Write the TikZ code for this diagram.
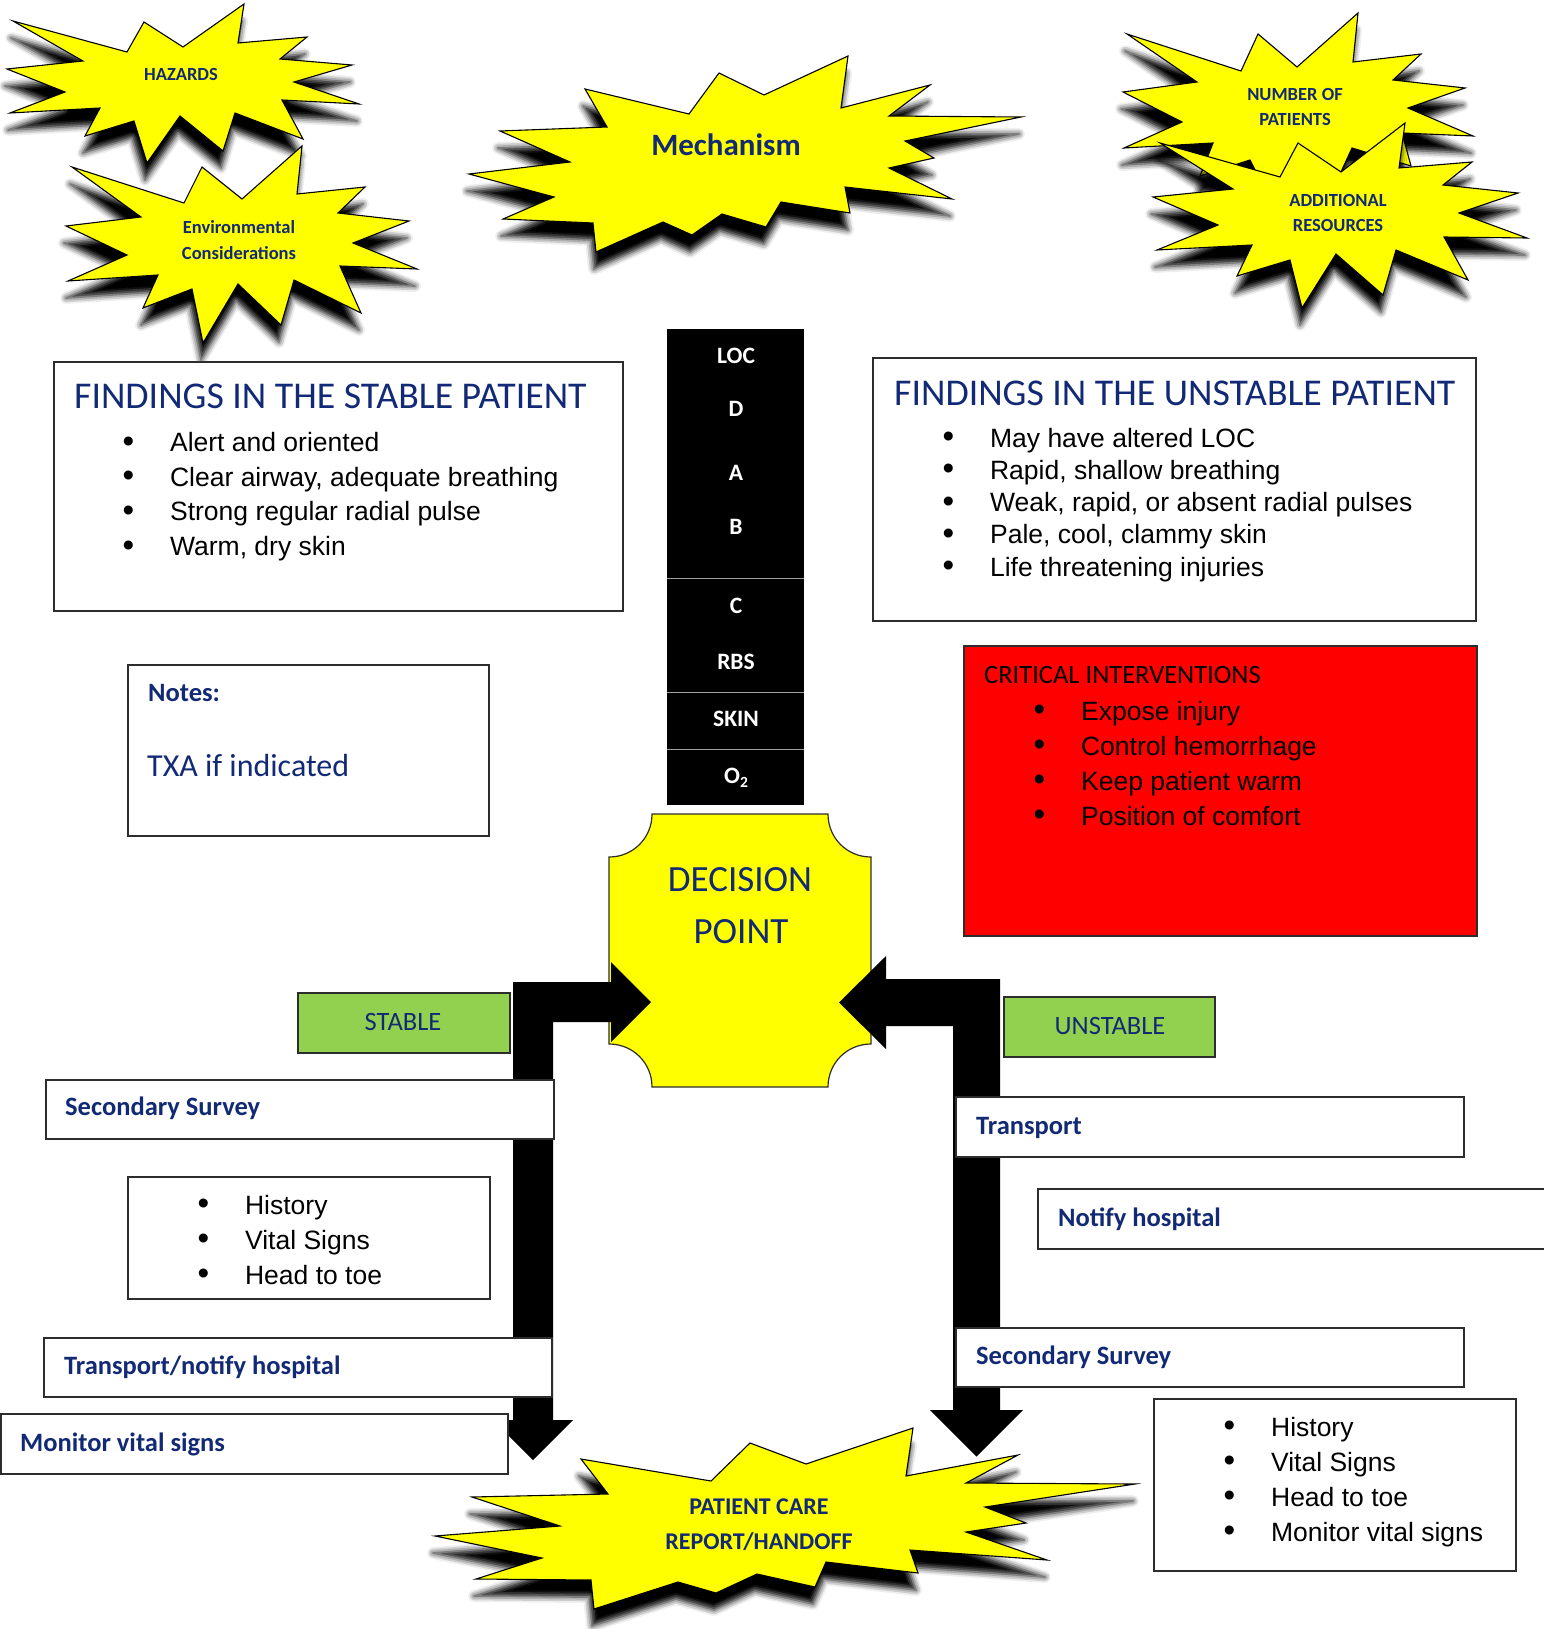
\documentclass[tikz,border=0pt]{standalone}
\usepackage{fontspec}
\setmainfont{Carlito}
\newfontfamily\arialfont{Liberation Sans}
\usetikzlibrary{shadows.blur}

\definecolor{navy}{RGB}{18,42,118}
\definecolor{burstyellow}{RGB}{255,255,0}
\definecolor{okgreen}{RGB}{146,208,80}
\definecolor{alertred}{RGB}{255,0,0}
\definecolor{edgegray}{RGB}{45,45,45}

% bullet followed by the item text at a fixed indent
\newcommand\blt[1]{\makebox[47.5pt][l]{\raisebox{-0.6pt}{\scalebox{1.25}{\textbullet}}}#1}

\tikzset{
  burst/.style={fill=burstyellow, draw=black, line width=1.1pt, line join=miter, miter limit=20,
    blur shadow={shadow xshift=-2pt, shadow yshift=-17pt, shadow blur radius=6pt, shadow opacity=100}},
  panel/.style={draw=edgegray, line width=1.2pt, fill=white},
  burstlabel/.style={inner sep=0pt, text=navy, align=center, font=\bfseries\fontsize{18.5}{25.5}\selectfont},
  boxhead/.style={inner sep=0pt, anchor=base west, text=navy, font=\bfseries\fontsize{26.5}{30}\selectfont},
  heading/.style={inner sep=0pt, anchor=base west, text=navy, font=\fontsize{37.8}{40}\selectfont},
  bulletitem/.style={inner sep=0pt, anchor=base west, font=\arialfont\fontsize{26.5}{30}\selectfont},
  loclabel/.style={inner sep=0pt, text=white, font=\bfseries\fontsize{23.5}{26}\selectfont},
  tag/.style={inner sep=0pt, text=navy, font=\fontsize{26.5}{30}\selectfont},
  blockarrow/.style={fill=black},
  divider/.style={draw=gray!75, line width=1pt},
}

\begin{document}
\begin{tikzpicture}[x=1pt,y=-1pt]
\useasboundingbox (0,0) rectangle (1543,1629);

% ---------------- starbursts ----------------
\path[burst] (13,21) -- (127,52) -- (144,22) -- (183,47) -- (244,4) -- (238,43) -- (307,37)
  -- (280,59) -- (352,65) -- (294,82) -- (359,104) -- (282,100) -- (303,139) -- (235,113)
  -- (223,151) -- (180,116) -- (147,163) -- (134,121) -- (85,136) -- (100,108) -- (10,113)
  -- (65,92) -- (7,69) -- (83,61) -- cycle;
\node[burstlabel] (hazards) at (181,74) {HAZARDS};

\path[burst] (72,167) -- (184,203) -- (202,167) -- (242,199) -- (302,146) -- (297,194)
  -- (365,187) -- (338,213) -- (409,221) -- (353,243) -- (417,269) -- (340,266) -- (361,313)
  -- (294,280) -- (281,325) -- (238,284) -- (203,343) -- (192,289) -- (143,308) -- (158,275)
  -- (68,281) -- (127,255) -- (66,226) -- (141,217) -- cycle;
\node[burstlabel] (environment) at (239,240) {Environmental\\Considerations};

\path[burst] (585,89) -- (689,114) -- (719,73) -- (764,95) -- (848,56) -- (841,108)
  -- (930,85) -- (889,116) -- (1021,117) -- (905,141) -- (934,158) -- (889,168) -- (952,199)
  -- (845,187) -- (850,213) -- (781,202) -- (766,227) -- (722,214) -- (692,235) -- (663,222)
  -- (596,252) -- (593,223) -- (503,219) -- (554,197) -- (469,174) -- (570,162) -- (500,131)
  -- (607,127) -- cycle;
\node[inner sep=0pt, text=navy, font=\bfseries\fontsize{31}{34}\selectfont] (mechanism) at (726,145) {Mechanism};

\path[burst] (1127,34) -- (1241,71) -- (1258,34) -- (1297,67) -- (1358,13) -- (1353,62)
  -- (1421,54) -- (1393,80) -- (1465,88) -- (1408,108) -- (1473,136) -- (1402,133)
  -- (1411,166) -- (1352,148) -- (1335,185) -- (1300,160) -- (1265,190) -- (1250,160)
  -- (1200,176) -- (1213,143) -- (1124,148) -- (1182,122) -- (1123,92) -- (1197,82) -- cycle;
\node[burstlabel] (patients) at (1295,107) {NUMBER OF\\PATIENTS};

\path[burst] (1160,143) -- (1280,177) -- (1298,143) -- (1341,172) -- (1405,123) -- (1399,168)
  -- (1472,162) -- (1443,185) -- (1518,193) -- (1459,213) -- (1527,238) -- (1444,237)
  -- (1468,280) -- (1396,250) -- (1383,295) -- (1336,254) -- (1302,308) -- (1290,260)
  -- (1237,276) -- (1252,245) -- (1157,250) -- (1218,225) -- (1153,197) -- (1233,189) -- cycle;
\node[burstlabel] (resources) at (1338,213) {ADDITIONAL\\RESOURCES};

\path[burst] (581,1459) -- (711,1481) -- (750,1443) -- (806,1464) -- (913,1428) -- (906,1476)
  -- (1018,1455) -- (966,1483) -- (1135,1484) -- (985,1507) -- (1026,1523) -- (966,1532)
  -- (1047,1560) -- (910,1550) -- (918,1573) -- (826,1562) -- (815,1587) -- (757,1574)
  -- (716,1593) -- (678,1582) -- (594,1609) -- (591,1580) -- (476,1579) -- (542,1558)
  -- (435,1536) -- (560,1526) -- (472,1497) -- (608,1494) -- cycle;
\node[inner sep=0pt, text=navy, align=center, font=\bfseries\fontsize{24}{35}\selectfont] (handoff) at (759,1525) {PATIENT CARE\\REPORT/HANDOFF};

% ---------------- primary survey column ----------------
\path[fill=black] (667,329) rectangle (804,805);
\draw[divider] (667,578) -- (804,578);
\draw[divider] (667,692) -- (804,692);
\draw[divider] (667,749) -- (804,749);
\node[loclabel] (loc) at (736,356) {LOC};
\node[loclabel] (disab) at (736,409) {D};
\node[loclabel] (airway) at (736,473) {A};
\node[loclabel] (breath) at (736,527) {B};
\node[loclabel] (circ) at (736,606) {C};
\node[loclabel] (rbs) at (736,662) {RBS};
\node[loclabel] (skin) at (736,719) {SKIN};
\node[loclabel] (oxygen) at (736,778) {O\raisebox{-3.5pt}{\fontsize{15.5}{15.5}\selectfont 2}};

% ---------------- decision point ----------------
\path[fill=burstyellow, draw=edgegray, line width=1.2pt]
  (652,814) -- (828,814) .. controls (828,838) and (847,857) .. (871,857)
  -- (871,1044) .. controls (847,1044) and (828,1063) .. (828,1087)
  -- (652,1087) .. controls (652,1063) and (633,1044) .. (609,1044)
  -- (609,857) .. controls (633,857) and (652,838) .. (652,814) -- cycle;
\node[inner sep=0pt, text=navy, font=\fontsize{37}{40}\selectfont] (decision) at (740,880) {DECISION};
\node[inner sep=0pt, text=navy, font=\fontsize{37}{40}\selectfont] (point) at (741,932) {POINT};

% ---------------- bent block arrows ----------------
\path[blockarrow] (513,982) -- (611,982) -- (611,962) -- (651,1002) -- (611,1042) -- (611,1022)
  -- (553,1022) -- (553,1420) -- (573,1420) -- (533,1460) -- (493,1420) -- (513,1420) -- cycle;
\path[blockarrow] (1000,979) -- (886,979) -- (886,956) -- (839,1002.5) -- (886,1049) -- (886,1026)
  -- (953,1026) -- (953,1410) -- (930,1410) -- (976.5,1456.5) -- (1023,1410) -- (1000,1410) -- cycle;

% ---------------- findings panels ----------------
\path[panel] (54,362) rectangle (623,611);
\node[heading] (stabletitle) at (74,408) {FINDINGS IN THE STABLE PATIENT};
\foreach \t [count=\i] in {Alert and oriented, {Clear airway, adequate breathing},
    Strong regular radial pulse, {Warm, dry skin}}
  \node[bulletitem] (stable-\i) at (122.4,{451.5+34.7*(\i-1)}) {\blt{\t}};

\path[panel] (873,358) rectangle (1476,621);
\node[heading] (unstabletitle) at (894,405) {FINDINGS IN THE UNSTABLE PATIENT};
\foreach \t [count=\i] in {May have altered LOC, {Rapid, shallow breathing},
    {Weak, rapid, or absent radial pulses}, {Pale, cool, clammy skin}, Life threatening injuries}
  \node[bulletitem] (unstable-\i) at (942.4,{447+32.3*(\i-1)}) {\blt{\t}};

\path[panel] (128,665) rectangle (489,836);
\node[boxhead] (notes) at (148,701) {Notes:};
\node[inner sep=0pt, anchor=base west, text=navy, font=\fontsize{32}{34}\selectfont] (txa) at (147,776) {TXA if indicated};

\path[fill=alertred, draw=edgegray, line width=1.2pt] (964,646) rectangle (1477,936);
\node[inner sep=0pt, anchor=base west, font=\fontsize{26.5}{30}\selectfont] (critical) at (984,683) {CRITICAL INTERVENTIONS};
\foreach \t [count=\i] in {Expose injury, Control hemorrhage, Keep patient warm, Position of comfort}
  \node[bulletitem] (critical-\i) at (1033.4,{720+35*(\i-1)}) {\blt{\t}};

% ---------------- stable branch ----------------
\path[fill=okgreen, draw=edgegray, line width=1.2pt] (298,993) rectangle (510,1053);
\node[tag] (stable) at (403,1022) {STABLE};

\path[panel] (46,1080) rectangle (554,1139);
\node[boxhead] (surveyL) at (65,1115) {Secondary Survey};

\path[panel] (128,1177) rectangle (490,1299);
\foreach \t [count=\i] in {History, Vital Signs, Head to toe}
  \node[bulletitem] (surveyL-\i) at (197.4,{1214+35*(\i-1)}) {\blt{\t}};

\path[panel] (44,1338) rectangle (552,1397);
\node[boxhead] (transportL) at (64,1374) {Transport/notify hospital};

\path[panel] (1,1414) rectangle (508,1474);
\node[boxhead] (monitorL) at (20,1451) {Monitor vital signs};

% ---------------- unstable branch ----------------
\path[fill=okgreen, draw=edgegray, line width=1.2pt] (1004,997) rectangle (1215,1057);
\node[tag] (unstable) at (1110,1026) {UNSTABLE};

\path[panel] (956,1097) rectangle (1464,1157);
\node[boxhead] (transportR) at (976,1134) {Transport};

\path[panel] (1038,1189) rectangle (1570,1249);
\node[boxhead] (notifyR) at (1058,1226) {Notify hospital};

\path[panel] (956,1328) rectangle (1464,1387);
\node[boxhead] (surveyR) at (976,1364) {Secondary Survey};

\path[panel] (1154,1399) rectangle (1516,1571);
\foreach \t [count=\i] in {History, Vital Signs, Head to toe, Monitor vital signs}
  \node[bulletitem] (surveyR-\i) at (1223.4,{1436+35*(\i-1)}) {\blt{\t}};

\end{tikzpicture}
\end{document}
